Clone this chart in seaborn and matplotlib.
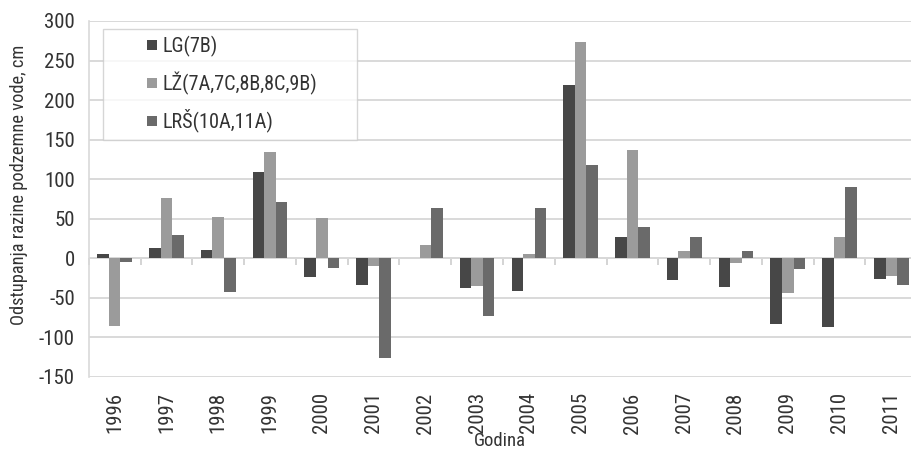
import numpy as np
import pandas as pd
import matplotlib
matplotlib.use('Agg')
import matplotlib.pyplot as plt
import matplotlib.patches as mpatches
from matplotlib.legend_handler import HandlerPatch
import seaborn as sns

years = [str(y) for y in range(1996, 2012)]
series = ['LG(7B)', 'LŽ(7A,7C,8B,8C,9B)', 'LRŠ(10A,11A)']
lg = [5, 12.5, 10.5, 109.5, -24, -33.5, 1, -38, -41.5, 219, 27.5, -28, -36, -82.5, -87, -26]
lz = [-85, 76, 52.5, 135, 51, -10, 16.5, -35.5, 5, 274, 137, 9, -6, -43.5, 27.5, -22]
lrs = [-4.5, 29.5, -42, 71, -12.5, -126, 63, -73, 63, 117.5, 39, 27.5, 9, -14, 90, -33.5]
colors = ['#474747', '#9b9b9b', '#6a6a6a']

df = pd.DataFrame({'Godina': years * 3,
                   'vrijednost': lg + lz + lrs,
                   'serija': np.repeat(series, len(years))})

sns.set_theme(style='white')
plt.rcParams['font.family'] = ['Roboto Condensed', 'Roboto', 'DejaVu Sans']
plt.rcParams['axes.unicode_minus'] = False
txt = '#333333'


# legend square drawn at the right end of the handle box
class RightSquare(HandlerPatch):
    def create_artists(self, legend, orig_handle, xdescent, ydescent,
                       width, height, fontsize, trans):
        s = 0.5 * fontsize
        p = mpatches.Rectangle((width - s - xdescent, (height - s) / 2 - ydescent), s, s,
                               facecolor=orig_handle.get_facecolor(), edgecolor='none',
                               transform=trans)
        return [p]


fig = plt.figure(figsize=(9.11, 4.5), dpi=100)
ax = fig.add_axes([88.8 / 911, 73 / 450, (911 - 88.8) / 911, 356 / 450])

sns.barplot(data=df, x='Godina', y='vrijednost', hue='serija', palette=colors,
            width=0.67, gap=0, saturation=1, ax=ax, edgecolor='none')

ax.set_ylim(-150, 300)
ax.set_yticks(range(-150, 301, 50))
ax.set_xlim(-0.5, 15.38)
ax.yaxis.grid(True, color='#d9d9d9', linewidth=1.4)
ax.set_axisbelow(True)
for s in ['top', 'right', 'bottom']:
    ax.spines[s].set_visible(False)
ax.spines['left'].set_color('#d9d9d9')
ax.spines['left'].set_linewidth(1.2)
ax.axhline(0, color='#cfcfcf', linewidth=1.2, zorder=0.5)

# small tick marks on the zero line between categories
sec = ax.secondary_xaxis((0 + 150) / 450)
sec.set_xticks(np.arange(-0.5, 16, 1))
sec.tick_params(direction='out', length=5, color='#cfcfcf', labelbottom=False,
                labeltop=False, top=False, bottom=True)
sec.spines['bottom'].set_visible(False)
sec.spines['top'].set_visible(False)
sec.set_xticklabels([])

ax.tick_params(axis='x', length=0, rotation=90, labelsize=15, colors=txt, pad=11)
ax.tick_params(axis='y', length=0, labelsize=15, colors=txt, pad=10)
ax.set_xlabel('Godina', fontsize=13.5, color=txt, labelpad=-1)
ax.set_ylabel('Odstupanja razine podzemne vode, cm', fontsize=13.2, color=txt)
ax.yaxis.set_label_coords(-0.074, 0.54)

handles, labels = ax.get_legend_handles_labels()
leg = ax.legend(handles, labels, loc='upper left', mode='expand',
                bbox_to_anchor=(0.0173, 0.5, 0.309, 0.4775), fontsize=14.6,
                handler_map={h: RightSquare() for h in handles},
                handlelength=2.3, handletextpad=0.3,
                labelspacing=0.7, borderpad=0.35, borderaxespad=0,
                frameon=True, fancybox=False, labelcolor=txt)
leg.get_frame().set_edgecolor('#cccccc')
leg.get_frame().set_linewidth(1)

fig.savefig('out.png', dpi=100)
